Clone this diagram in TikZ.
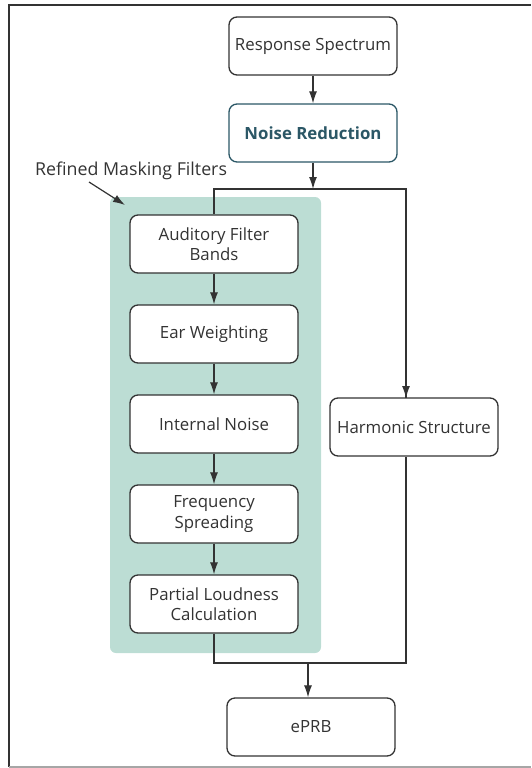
\documentclass[tikz,border=0pt]{standalone}
\usepackage{fontspec}
\setmainfont{Open Sans}
\usetikzlibrary{arrows.meta}
\definecolor{panel}{HTML}{BCDDD4}
\definecolor{teal}{HTML}{2B5766}
\definecolor{ink}{HTML}{333333}
\begin{document}
\begin{tikzpicture}[x=1pt,y=-1pt,
  box/.style={draw=ink,line width=1.3pt,rounded corners=8pt,fill=white,minimum width=168pt,minimum height=58pt,align=center,font=\fontsize{16.8}{20.5}\selectfont,text=ink,inner sep=0pt},
  conn/.style={draw=ink,line width=1.2pt},
  arr/.style={conn,-{Latex[length=12pt,width=8pt]}}]
\useasboundingbox (0,0) rectangle (531,768);
\draw[line width=2pt,draw=ink] (9,767) -- (9,5) -- (531,5);
\draw[line width=1.5pt,draw=gray!70] (9,767) -- (531,767);
\fill[panel,rounded corners=6pt] (110,197) rectangle (321,653);
\node[box] (rs) at (313,46) {Response Spectrum};
\node[box,draw=teal,text=teal,font=\fontsize{16.8}{20.5}\selectfont\bfseries] (nr) at (313,133) {Noise Reduction};
\node[box] (afb) at (214,244) {Auditory Filter\\Bands};
\node[box] (ew) at (214,334) {Ear Weighting};
\node[box] (in) at (214,424) {Internal Noise};
\node[box] (fs) at (214,514) {Frequency\\Spreading};
\node[box] (plc) at (214,604) {Partial Loudness\\Calculation};
\node[box] (hs) at (414,427) {Harmonic Structure};
\node[box] (eprb) at (311,727) {ePRB};
\node[font=\fontsize{17.8}{21}\selectfont,text=ink,anchor=west,inner sep=0pt] (lbl) at (35,171) {Refined Masking Filters};
\coordinate (split) at (313,189);
\coordinate (join) at (308,663);
\draw[arr] (rs) -- (nr);
\draw[arr] (nr) -- (split);
\draw[conn] (afb.north) |- (split) -| (406,398);
\draw[arr] (406,189) -- (406,398);
\draw[arr] (afb) -- (ew);
\draw[arr] (ew) -- (in);
\draw[arr] (in) -- (fs);
\draw[arr] (fs) -- (plc);
\draw[conn] (plc.south) |- (join) -| (406,457);
\draw[arr] (join) -- (join |- eprb.north);
\draw[arr] (89,182) -- (125,205);
\end{tikzpicture}
\end{document}
